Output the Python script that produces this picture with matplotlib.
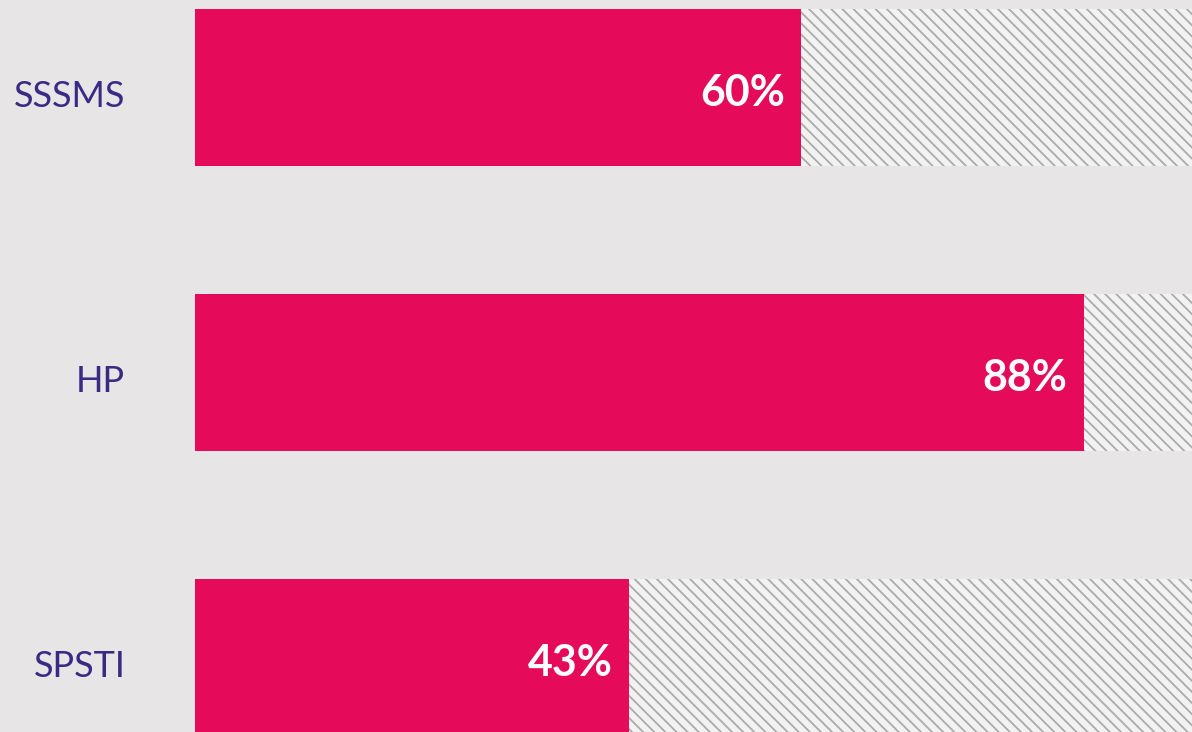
import matplotlib.pyplot as plt
import matplotlib as mpl

categories = ["SSSMS", "HP", "SPSTI"]
values = [0.60, 0.88, 0.43]
labels = ["60%", "88%", "43%"]

bg = "#e7e5e6"
bar_color = "#e50b5a"
label_color = "#3b2a84"

mpl.rcParams['hatch.color'] = "#ababab"
mpl.rcParams['hatch.linewidth'] = 1.3

fig = plt.figure(figsize=(11.92, 7.32), dpi=100, facecolor=bg)
# axes runs past the right edge so that 100% falls just outside the figure
ax = fig.add_axes([195 / 1192, 0, 1010 / 1192, 1])
ax.set_facecolor(bg)

pos = list(range(len(categories)))
h = 157 / 285
ax.barh(pos, values, height=h, color=bar_color, linewidth=0)
ax.barh(pos, [1 - v for v in values], left=values, height=h,
        facecolor="#f2f2f2", hatch="\\\\\\", edgecolor="#ababab", linewidth=0)

for p, v, lab in zip(pos, values, labels):
    ax.text(v - 0.016, p + 0.02, lab, ha="right", va="center", color="white",
            fontsize=31, fontweight="bold", family="Lato")

for p, c in zip(pos, categories):
    ax.text(-0.069, p + 0.03, c, ha="right", va="center", color=label_color,
            fontsize=26, family="Lato")

ax.set_xlim(0, 1)
ax.set_ylim(2 + (732 - 657.5) / 285, -87.5 / 285)
ax.axis("off")

fig.savefig("out.png", dpi=100, facecolor=bg)
